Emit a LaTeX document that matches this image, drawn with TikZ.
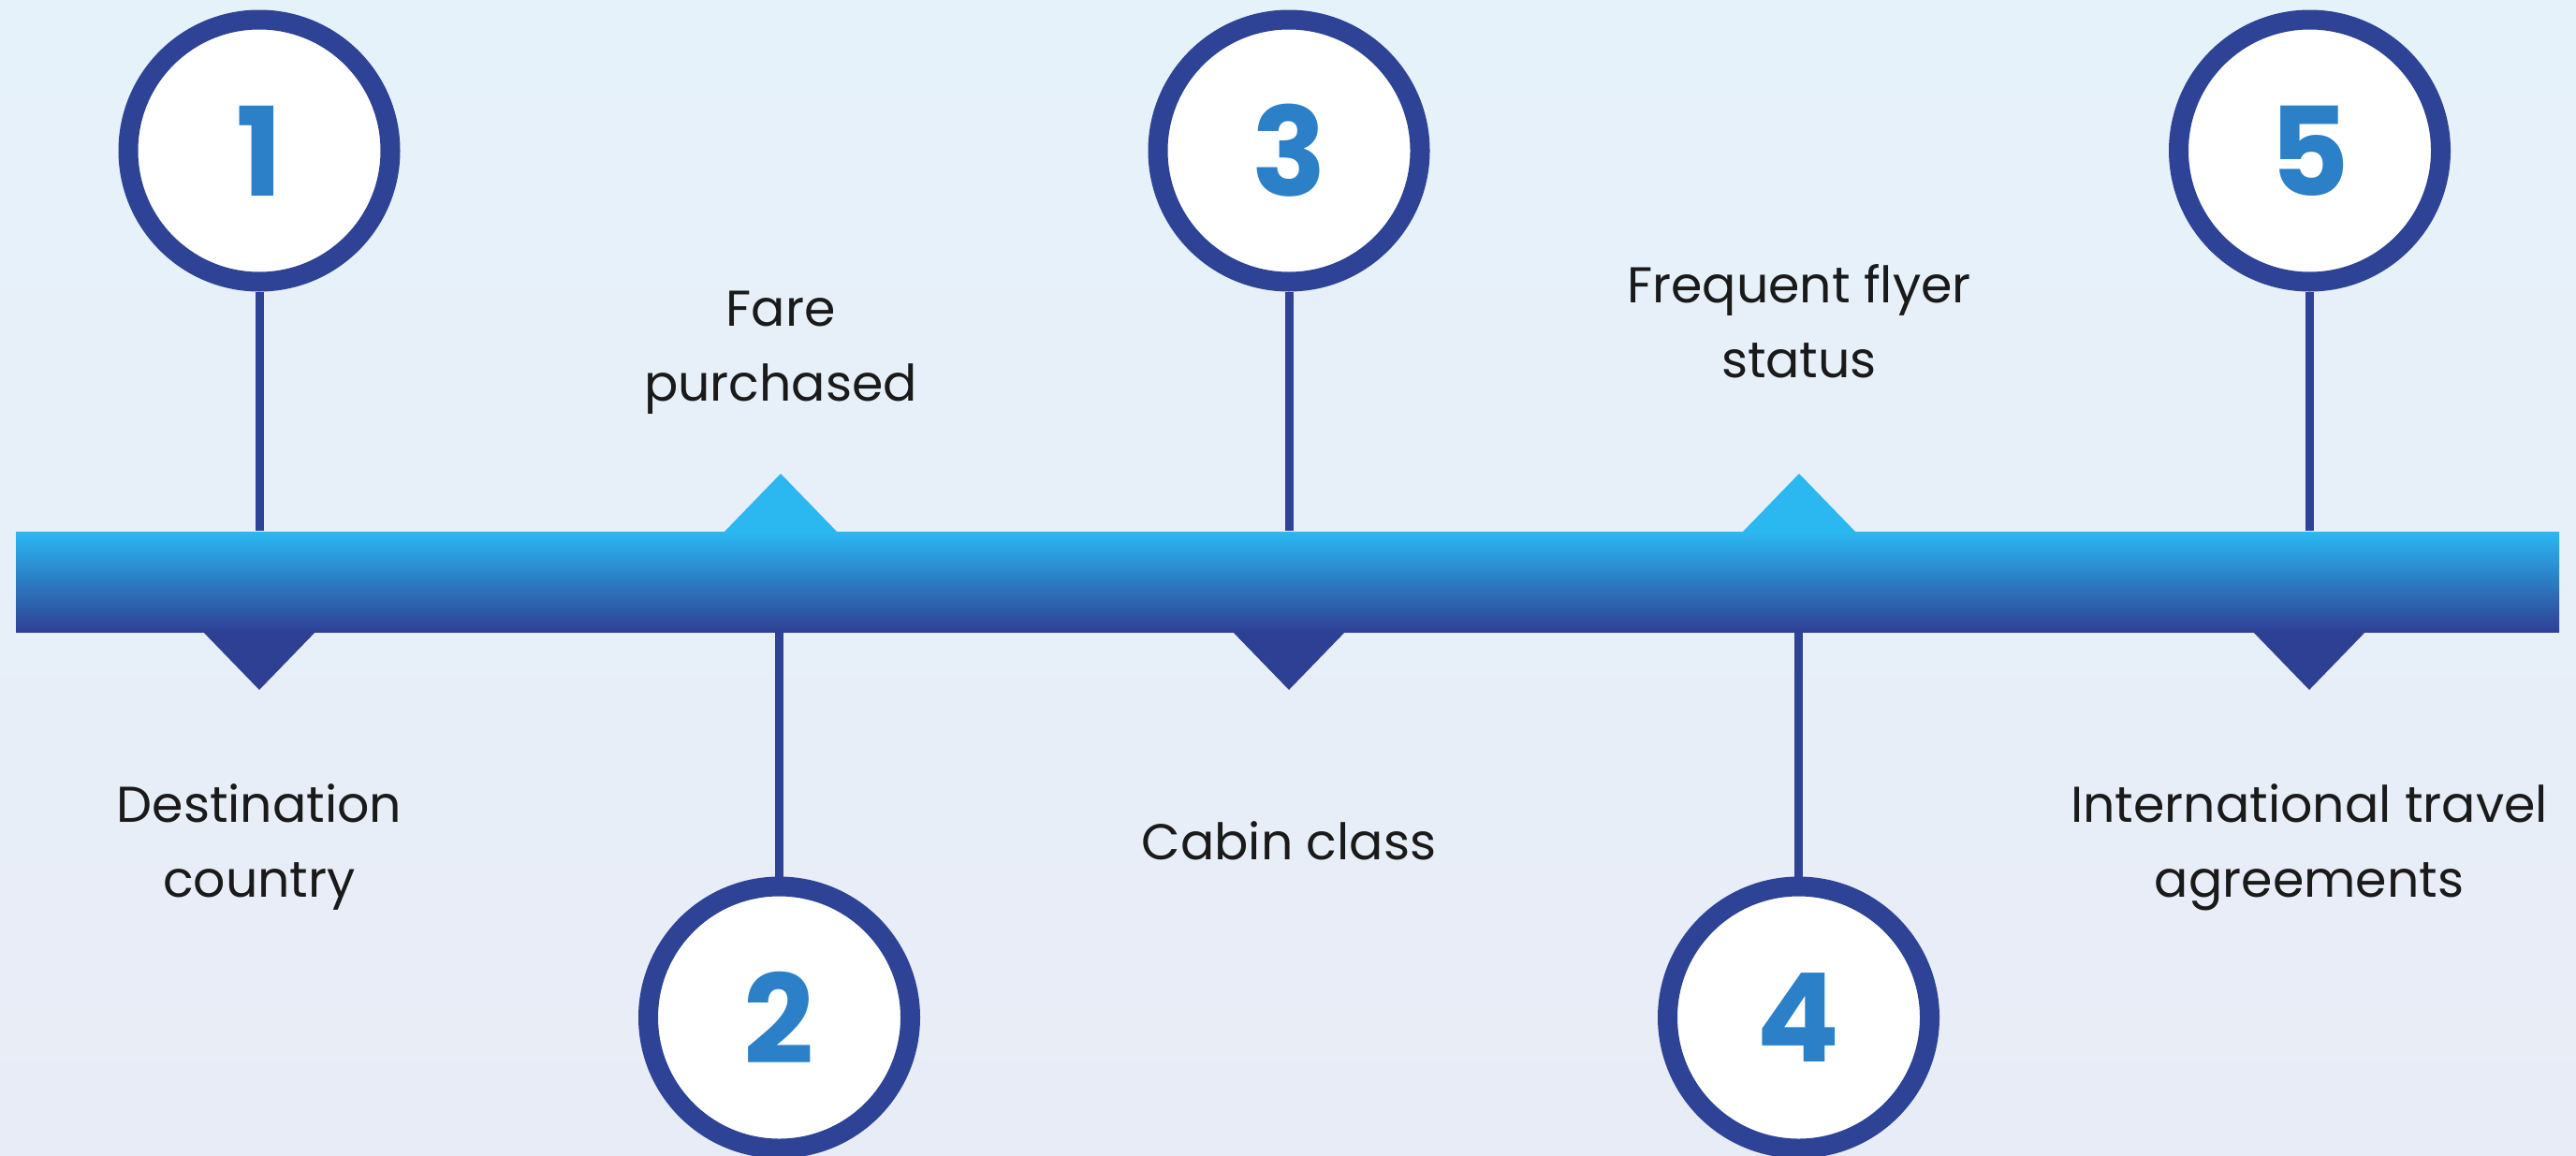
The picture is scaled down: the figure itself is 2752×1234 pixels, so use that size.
\documentclass[tikz,border=0pt]{standalone}
\usepackage{fontspec}
\setmainfont{Poppins}
\definecolor{ringblue}{HTML}{2E4396}
\definecolor{barlight}{HTML}{2BB8F1}
\definecolor{bardark}{HTML}{2E4094}
\definecolor{digitblue}{HTML}{2C80C8}
\definecolor{bgtop}{HTML}{E6F2FA}
\definecolor{bgbot}{HTML}{E8ECF6}
\definecolor{labelgray}{HTML}{1A1A1A}

\begin{document}
\begin{tikzpicture}[x=0.1mm,y=-0.1mm,
   step circle/.style={draw=ringblue,fill=white,circle,line width=2.1mm,
        minimum size=28mm,inner sep=0pt,text=digitblue,
        font=\fontsize{37.5}{37.5}\selectfont\bfseries},
   stem/.style={draw=ringblue,line width=0.9mm},
   bar/.style={top color=barlight,bottom color=bardark,inner sep=0pt,
        minimum width=271.7mm,minimum height=10.7mm},
   up tip/.style={fill=barlight},
   down tip/.style={fill=bardark},
   step text/.style={align=center,anchor=base,text=labelgray,inner sep=0pt,
        font=\fontsize{15.3}{22.6}\selectfont}]

\useasboundingbox (0,0) rectangle (2752,1234);
\fill[top color=bgtop,bottom color=bgbot] (0,0) rectangle (2752,1234);

% small tips above and below the bar
\fill[up tip] (772,570) -- (834,506) -- (896,570) -- cycle;
\fill[up tip] (1860,570) -- (1922,506) -- (1984,570) -- cycle;
\fill[down tip] (215,673) -- (277,737) -- (339,673) -- cycle;
\fill[down tip] (1315,673) -- (1377,737) -- (1439,673) -- cycle;
\fill[down tip] (2405,673) -- (2467,737) -- (2529,673) -- cycle;

\node[bar] (bar) at (1375.5,621.5) {};

\node[step circle] (s1) at (277,161) {1};
\node[step circle] (s2) at (832.5,1087) {2};
\node[step circle] (s3) at (1377,161) {3};
\node[step circle] (s4) at (1921.5,1087) {4};
\node[step circle] (s5) at (2467.5,161) {5};

\draw[stem] (s1.south) -- (s1 |- bar.north);
\draw[stem] (s2.north) -- (s2 |- bar.south);
\draw[stem] (s3.south) -- (s3 |- bar.north);
\draw[stem] (s4.north) -- (s4 |- bar.south);
\draw[stem] (s5.south) -- (s5 |- bar.north);

% base anchor sits on the last line
\node[step text] (t1) at (277,958) {Destination\\country};
\node[step text] (t2) at (834,428) {Fare\\purchased};
\node[step text] (t3) at (1377,918) {Cabin class};
\node[step text] (t4) at (1922,403) {Frequent flyer\\status};
\node[step text] (t5) at (2467,958) {International travel\\agreements};

\end{tikzpicture}
\end{document}
